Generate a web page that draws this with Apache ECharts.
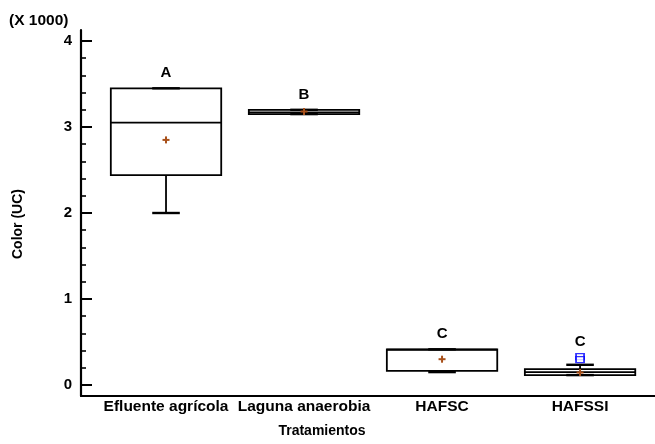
<!DOCTYPE html>
<html>
<head>
<meta charset="utf-8">
<script src="https://cdn.jsdelivr.net/npm/echarts@6/dist/echarts.min.js"></script>
<style>html,body{margin:0;padding:0;background:#fff;}#c{width:655px;height:444px;}</style>
</head>
<body>
<div id="c"></div>
<script>
// Data (Color, UC)
const categories = ['Efluente agrícola', 'Laguna anaerobia', 'HAFSC', 'HAFSSI'];
const mins    = [2000, 3150, 150, 115];
const q1s     = [2440, 3150, 165, 115];
const medians = [3050, 3170, 410, 150];
const q3s     = [3450, 3200, 415, 185];
const maxs    = [3450, 3200, 415, 235];
const means   = [2850, 3180, 300, 145];
const letters = ['A', 'B', 'C', 'C'];
const outliers = [[3, 330], [3, 295]];
const yTicks = [0, 1000, 2000, 3000, 4000];
const yMinorTicks = [];
for (let v = 200; v < 4000; v += 200) { if (v % 1000 !== 0) yMinorTicks.push(v); }

const boxData = categories.map((c, i) => {
  let top = maxs[i];
  outliers.forEach(o => { if (o[0] === i && o[1] > top) top = o[1]; });
  return [i, mins[i], q1s[i], medians[i], q3s[i], maxs[i], means[i], top];
});

const font = 'Liberation Sans, Arial, sans-serif';
const chart = echarts.init(document.getElementById('c'));

function renderBox(params, api) {
  const i = api.value(0);
  const vmin = api.value(1), vq1 = api.value(2), vmed = api.value(3), vq3 = api.value(4), vmax = api.value(5), vmean = api.value(6), vtop = api.value(7);
  const cx = api.coord([i, 0])[0];
  const y = v => api.coord([i, v])[1];
  const hw = api.size([0.8, 0])[0] / 2;
  const cw = api.size([0.2, 0])[0] / 2;
  const black = {stroke: '#000', lineWidth: 1.8, fill: null};
  const children = [];
  children.push({type: 'line', shape: {x1: cx, y1: y(vmin), x2: cx, y2: y(vq1)}, style: black});
  children.push({type: 'line', shape: {x1: cx, y1: y(vq3), x2: cx, y2: y(vmax)}, style: black});
  children.push({type: 'rect', shape: {x: cx - hw, y: y(vq3), width: 2 * hw, height: y(vq1) - y(vq3)}, style: {fill: '#fff', stroke: '#000', lineWidth: 1.8}});
  children.push({type: 'line', shape: {x1: cx - hw, y1: y(vmed), x2: cx + hw, y2: y(vmed)}, style: black});
  children.push({type: 'line', shape: {x1: cx - cw, y1: y(vmin), x2: cx + cw, y2: y(vmin)}, style: {stroke: '#000', lineWidth: 2.4}});
  children.push({type: 'line', shape: {x1: cx - cw, y1: y(vmax), x2: cx + cw, y2: y(vmax)}, style: {stroke: '#000', lineWidth: 2.4}});
  const my = y(vmean);
  const brown = {stroke: '#a8501a', lineWidth: 2};
  children.push({type: 'line', shape: {x1: cx - 3.5, y1: my, x2: cx + 3.5, y2: my}, style: brown});
  children.push({type: 'line', shape: {x1: cx, y1: my - 3.5, x2: cx, y2: my + 3.5}, style: brown});
  children.push({type: 'text', x: cx, y: y(vtop) - 15, style: {text: letters[i], fill: '#000', font: 'bold 15px ' + font, align: 'center', verticalAlign: 'middle'}});
  return {type: 'group', children};
}

chart.setOption({
  animation: false,
  backgroundColor: '#fff',
  grid: {left: 81, right: 0, top: 30, bottom: 48, containLabel: false},
  xAxis: {
    type: 'value', min: -0.616, max: 3.543,
    axisLine: {show: true, onZero: false, lineStyle: {color: '#000', width: 2.2}},
    axisTick: {show: false},
    splitLine: {show: false},
    axisLabel: {customValues: [0, 1, 2, 3], formatter: v => categories[Math.round(v)], color: '#000', fontWeight: 'bold', fontSize: 15.5, fontFamily: font, margin: 3}
  },
  yAxis: [{
    type: 'value', min: -128, max: 4128,
    axisLine: {show: true, onZero: false, lineStyle: {color: '#000', width: 2.2}},
    axisTick: {show: true, inside: true, length: 11, customValues: yTicks, lineStyle: {color: '#000', width: 2}},
    axisLabel: {customValues: yTicks, formatter: v => String(v / 1000), color: '#000', fontWeight: 'bold', fontSize: 15, fontFamily: font, margin: 9},
    splitLine: {show: false}
  }, {
    type: 'value', min: -128, max: 4128, position: 'left',
    axisLine: {show: false, onZero: false},
    axisTick: {show: true, inside: true, length: 5, customValues: yMinorTicks, lineStyle: {color: '#000', width: 1.6}},
    axisLabel: {show: false},
    splitLine: {show: false}
  }],
  graphic: [
    {type: 'text', left: 9, top: 13, style: {text: '(X 1000)', fill: '#000', font: 'bold 15.5px ' + font}},
    {type: 'text', x: 322, y: 431, style: {text: 'Tratamientos', fill: '#000', font: 'bold 14px ' + font, align: 'center', verticalAlign: 'middle'}},
    {type: 'text', x: 18, y: 224, rotation: Math.PI / 2, style: {text: 'Color (UC)', fill: '#000', font: 'bold 14px ' + font, align: 'center', verticalAlign: 'middle'}}
  ],
  series: [{
    type: 'custom', renderItem: renderBox, data: boxData,
    encode: {x: 0, y: [1, 2, 3, 4, 5, 7]}
  }, {
    type: 'scatter', data: outliers, symbol: 'rect', symbolSize: [8, 6],
    itemStyle: {color: '#fff', borderColor: '#0000ff', borderWidth: 1.6}
  }]
});
</script>
</body>
</html>
